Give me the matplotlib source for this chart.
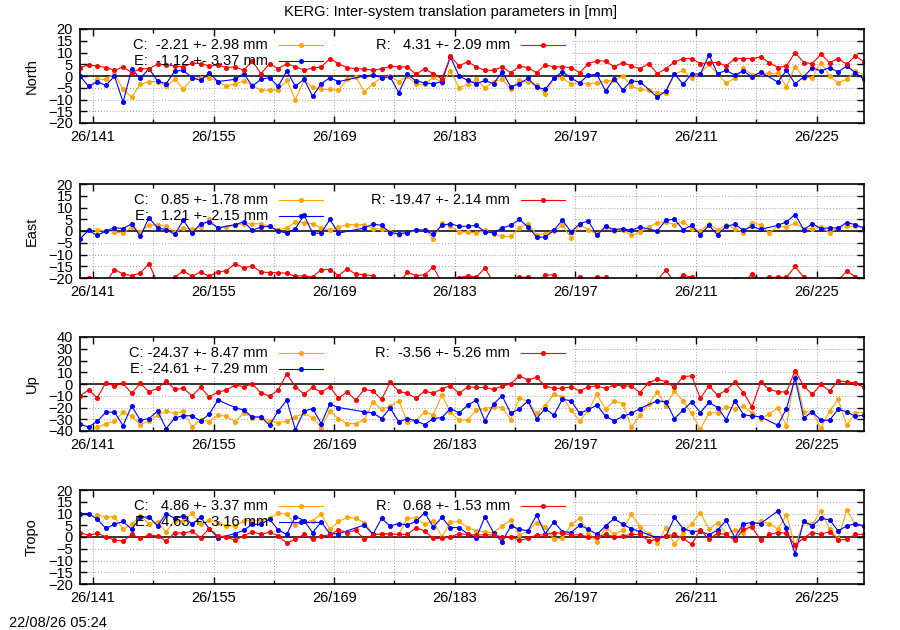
import matplotlib
matplotlib.use("Agg")
import matplotlib.pyplot as plt
import numpy as np
from matplotlib.patches import Rectangle
from matplotlib.ticker import FuncFormatter

nan = np.nan

# one solution per day, day-of-year 139.5 ... 230.5
days = 139.5 + np.arange(92)

north_c = [nan, nan, -1.4, -1.4, 1.0, -5.7, -9.0, -3.6, -2.4, -2.4,
           -4.3, -1.4, -5.7, -1.0, -0.7, -0.7, -2.4, -4.4, -3.3, -2.1,
           -4.0, -6.1, -5.9, -5.9, -1.9, -10.0, -1.9, -4.7, -5.7, -5.7,
           -6.1, -1.4, -0.4, -6.7, -3.3, -0.7, 0.0, -2.4, 0.0, -3.6,
           -3.6, -0.4, -2.9, 2.1, -5.0, -3.6, -1.4, -5.0, -2.4, -1.4,
           -5.7, -1.9, -2.4, -3.9, -7.6, -0.7, -1.0, -3.3, -2.9, -3.3,
           -2.9, -2.1, -1.9, 0.0, -4.3, -5.7, -6.1, -7.1, -7.1, 0.7,
           2.4, -1.0, 1.0, 5.0, 0.7, -2.9, -1.0, 3.3, 0.4, 1.4,
           1.1, 1.1, -4.6, 4.0, -0.7, -0.7, 5.7, 0.0, -2.9, -1.4,
           2.1, 0.4]
north_e = [0.0, -4.4, -2.4, -4.0, 0.0, -11.1, 2.9, -1.0, 3.1, -2.1,
           -3.3, 2.1, 2.4, -0.7, -1.9, 1.4, -2.4, nan, -1.4, 1.0,
           -4.3, -1.4, -0.7, -4.4, 2.1, -4.3, -1.4, -8.6, -3.3, -0.7,
           -2.4, nan, nan, 0.0, 0.4, -0.7, -0.4, -7.1, 0.7, -2.1,
           -2.9, -3.3, -2.4, 8.1, 0.0, -1.9, -3.3, -1.9, -3.3, 1.7,
           -4.6, -3.3, -1.0, -4.7, -5.7, -1.0, 1.9, -1.0, -2.9, 0.4,
           0.7, -6.4, -1.1, -5.9, -2.1, -2.4, nan, -9.0, -6.4, 1.0,
           -3.6, 1.0, 0.7, 9.0, 1.0, 2.4, 0.4, 2.1, -0.4, 1.7,
           nan, -2.6, 2.4, -3.3, -0.4, 3.6, 2.1, 3.6, 1.7, 4.3,
           1.4, -1.4]
north_r = [3.6, 4.7, 4.3, 3.6, 2.4, 3.9, 1.4, 3.1, 3.1, 5.0,
           4.7, 4.3, 3.9, 5.4, 5.3, 4.3, 4.7, 3.6, 3.9, 2.4,
           6.4, 1.0, 5.3, 3.1, 5.3, 3.9, 2.6, 3.3, 3.9, 7.4,
           5.3, 3.6, 3.1, 3.0, 2.4, 3.1, 4.1, 3.9, 3.9, 0.7,
           3.1, 1.0, -1.3, 8.3, 4.3, 6.1, 3.9, 2.4, 2.4, 3.9,
           1.4, 4.1, 3.6, 1.4, 4.7, 3.9, 3.9, 3.6, 1.4, 5.3,
           6.4, 6.4, 3.9, 5.7, 4.3, 3.1, 5.3, 1.0, 3.1, 6.0,
           7.4, 7.4, 5.3, 5.7, 5.7, 4.3, 7.4, 7.4, 7.4, 8.1,
           5.7, 3.6, 4.3, 10.0, 5.7, 5.3, 9.3, 5.7, 7.4, 5.0,
           8.6, 6.0]

east_c = [nan, nan, 0.6, 0.0, -0.4, -0.9, 1.7, -0.4, 2.4, 2.7,
          2.1, -0.4, 1.3, 0.7, 1.7, 4.9, 1.3, 1.7, 2.4, 3.1,
          3.1, 3.1, 2.0, 0.6, 1.3, 3.9, 3.6, 3.1, 1.3, 0.3,
          1.7, 2.7, 2.7, 2.7, 1.0, 1.0, -0.4, -1.6, -0.9, 0.3,
          0.6, -3.3, 3.4, 2.1, -0.4, -0.4, -0.9, 0.3, -1.4, -2.3,
          -2.3, 1.3, 3.1, -1.6, -1.1, 0.0, 2.4, -2.9, 2.7, 0.6,
          -1.4, 1.7, 0.0, 0.6, -1.9, -0.4, 1.7, 3.6, 3.9, 2.7,
          3.9, 1.0, -0.1, 3.1, 0.3, 2.7, 1.0, -0.7, 3.4, 2.7,
          -0.7, 2.0, 1.7, 3.4, 1.0, 1.0, 1.7, -0.7, 1.3, 2.0,
          2.0, 1.3]
east_e = [-3.3, 0.3, -1.9, 0.0, 1.4, 1.0, 3.1, -2.3, 5.7, 1.3,
          0.6, -1.4, 4.6, -0.9, 3.1, 3.9, 1.3, nan, 2.7, 3.9,
          0.3, 1.7, 2.0, 0.0, -0.9, 1.0, 6.7, -0.9, -0.9, 4.9,
          -0.9, nan, nan, 1.3, 2.9, 2.4, -0.7, -1.1, -0.7, 0.6,
          0.3, -1.4, 2.4, 3.1, 2.0, 2.0, 2.4, -0.4, -0.7, 1.3,
          2.4, 5.0, 1.7, -2.6, -2.6, 0.3, 4.6, -0.4, 3.1, 4.3,
          -1.9, 2.0, 0.6, 1.0, 0.3, 1.7, nan, 0.0, 4.6, 5.0,
          0.6, 2.4, -1.6, 2.4, -1.6, 2.0, 2.9, 0.3, 2.0, 0.7,
          nan, 2.4, 3.9, 7.0, 0.6, 3.1, 1.0, 1.3, 1.3, 3.6,
          2.7, 1.3]
east_r = [-21.0, -19.8, -21.0, -22.0, -16.4, -18.3, -19.0, -17.9, -13.9, -22.0,
          -23.0, -19.7, -16.9, -19.3, -17.4, -19.3, -17.4, -16.9, -13.9, -15.7,
          -14.9, -17.4, -17.7, -17.7, -18.0, -19.3, -19.0, -19.6, -16.4, -16.4,
          -19.0, -16.1, -18.3, -18.6, -19.1, -22.0, -23.0, -22.0, -17.6, -19.0,
          -18.6, -15.4, -22.0, -23.0, -20.0, -19.0, -19.7, -15.7, -22.0, -23.0,
          -22.0, -19.7, -19.7, -22.0, -18.7, -18.7, -22.0, -22.0, -19.7, -22.0,
          -19.7, -19.7, -22.0, -23.0, -22.0, -23.0, -22.0, -21.0, -16.6, -22.0,
          -18.7, -19.7, -22.0, -23.0, -22.0, -22.0, -21.0, -22.0, -18.3, -21.0,
          -19.7, -19.7, -19.7, -15.1, -19.7, -22.0, -23.0, -22.0, -21.0, -17.1,
          -19.4, -21.0]

up_c = [nan, nan, -37.0, -33.7, -31.4, -24.0, -27.4, -34.6, -31.4, -26.6,
        -22.9, -25.1, -23.1, -36.6, -30.3, -32.0, -26.6, -27.4, -32.3, -24.6,
        -28.6, -28.6, -31.4, -33.1, -31.4, -28.0, -25.1, -28.6, -37.1, -23.1,
        -29.4, -33.7, -33.7, -30.3, -15.1, -21.7, -18.9, -14.3, -32.3, -31.4,
        -23.7, -26.6, -9.4, -24.0, -30.9, -30.3, -22.3, -20.9, -19.4, -20.0,
        -30.3, -12.3, -14.6, -25.1, -18.3, -8.9, -10.9, -22.3, -31.4, -22.3,
        -8.9, -21.4, -14.6, -16.6, -36.6, -26.6, -17.1, -6.6, -18.3, -6.0,
        -14.3, -25.1, -38.6, -24.6, -24.6, -19.4, -20.9, -18.9, -24.6, -29.4,
        -25.7, -20.0, -36.0, 9.1, -23.7, -23.7, -37.1, -22.9, -13.1, -35.1,
        -24.3, -24.3]
up_e = [-34.3, -36.6, -31.7, -24.0, -24.0, -35.4, -18.6, -30.9, -29.4, -23.1,
        -38.0, -28.9, -26.9, -27.1, -31.4, -25.7, -13.7, nan, -20.0, -22.3,
        -28.0, -28.0, -35.1, -23.1, -13.7, -38.9, -23.1, -20.9, -33.7, -17.1,
        -20.0, nan, nan, -23.7, -24.6, -29.4, -20.3, -32.3, -29.4, -31.4,
        -34.6, -29.4, -28.6, -20.9, -24.6, -18.0, -13.7, -31.4, -17.1, -10.0,
        -25.1, -20.9, -14.6, -29.4, -20.9, -26.6, -12.9, -14.3, -25.1, -21.7,
        -18.0, -27.4, -31.4, -27.4, -25.1, -20.9, nan, -14.3, -15.1, -29.4,
        -22.3, -15.1, -24.3, -15.7, -20.0, -30.3, -14.3, -26.0, -27.4, -28.0,
        nan, -35.1, -20.9, 4.9, -28.9, -23.7, -30.9, -30.9, -21.4, -23.7,
        -27.4, -26.6]
up_r = [-10.0, -5.1, -11.7, 1.1, -1.7, 0.6, -8.0, 0.6, -6.6, -3.7,
        2.6, -4.6, -3.7, -10.0, -2.9, -10.9, -6.9, -5.1, -0.9, -2.3,
        0.0, -7.4, -10.3, -5.1, 8.6, -2.3, -8.6, -2.9, -6.9, -2.3,
        -12.3, -6.6, -13.7, -4.6, -6.0, -13.1, 1.4, -6.3, -8.0, -12.0,
        -6.0, -8.0, -4.0, -1.4, -8.0, -2.3, -2.9, -2.9, -4.6, -1.7,
        0.0, 6.9, 3.4, 5.7, -1.7, -3.7, -3.7, -2.3, -6.0, -2.3,
        -1.7, -3.7, -0.9, -1.7, -1.7, -7.4, 1.1, 4.0, 2.0, -2.9,
        6.3, 6.9, -12.3, -1.4, -9.7, -5.1, 1.4, -7.4, -19.4, 1.4,
        -4.6, -6.6, -6.9, 11.4, -1.7, -8.9, -0.3, -6.0, 2.6, 2.0,
        0.6, -2.9]

tropo_c = [nan, nan, 9.4, 8.6, 8.6, 3.3, 5.4, 9.0, 5.7, 6.4,
           2.3, 6.9, 6.9, 10.1, 5.4, 7.1, 6.1, 4.7, 4.7, 6.9,
           6.9, 6.9, 7.9, 10.1, 9.7, 5.1, 6.6, 6.9, 9.7, 3.3,
           6.6, 8.3, 8.0, 6.1, 1.4, 1.1, 1.1, 1.1, 8.0, 8.0,
           5.4, 6.9, 0.1, 6.4, 6.6, 4.0, 2.6, 2.1, 1.9, 4.7,
           7.3, 0.9, 2.6, 6.1, 4.4, -1.0, -0.6, 5.4, 8.0, 1.9,
           -2.0, 4.0, 1.1, 3.0, 9.7, 4.4, 1.1, -2.4, 4.0, -3.1,
           1.9, 5.7, 10.4, 3.3, 6.1, 1.4, 2.9, 1.9, 5.4, 6.6,
           5.7, 3.3, 9.4, -3.9, 6.6, 5.4, 10.9, 3.6, -1.0, 11.6,
           5.4, 4.7]
tropo_e = [10.0, 10.0, 7.6, 3.7, 5.4, 6.6, 3.3, 8.3, 8.6, 4.7,
           10.0, 7.9, 9.0, 5.4, 8.3, 3.6, -0.3, nan, 1.4, 2.9,
           5.4, 5.4, 7.6, 3.0, 1.1, 8.7, 7.0, 1.9, 6.4, 1.4,
           1.4, nan, nan, 5.1, 1.1, 7.9, 4.7, 5.7, 5.1, 6.6,
           10.4, 4.3, 8.3, 4.0, 4.0, 1.4, -0.3, 8.6, 1.9, -2.1,
           4.7, 3.3, 2.6, 9.4, 1.4, 6.4, 2.3, 1.9, 5.0, 3.3,
           1.1, 4.7, 7.9, 5.4, 3.6, 2.3, nan, -0.3, 0.4, 8.3,
           3.6, 2.3, 2.6, 0.9, 3.0, 7.1, -0.3, 5.7, 6.1, 5.7,
           nan, 11.1, 3.7, -7.1, 6.6, 4.7, 8.0, 7.3, 2.6, 4.7,
           5.7, 4.7]
tropo_r = [1.9, 0.7, 1.6, 0.1, -1.3, -1.7, 1.1, -0.6, 0.9, 0.4,
           -1.7, 1.9, 1.6, 2.6, -0.3, 3.6, 0.4, 0.0, -1.3, 0.4,
           2.3, 1.1, 2.1, 0.4, -2.6, -1.0, 1.1, -1.0, 0.4, 0.9,
           3.1, 1.9, 2.9, -1.0, 0.9, 1.4, 1.4, 1.1, 1.1, 4.0,
           2.6, -0.6, -0.6, 0.1, 1.4, 1.1, 0.9, 0.9, 0.9, 0.0,
           0.1, -1.4, -0.6, 0.9, 0.9, 1.9, 1.6, 0.9, 0.9, 0.1,
           0.0, 1.1, 0.1, 0.4, 1.1, 1.1, -1.7, -1.0, 0.4, 1.1,
           -0.6, -3.1, 3.0, -1.0, 1.6, 1.1, -1.4, 3.3, 4.3, -1.4,
           1.1, 1.9, 1.6, -3.6, -0.3, 1.9, 1.1, 2.3, -1.3, -1.0,
           1.1, 1.1]

panel_names = ["North", "East", "Up", "Tropo"]
panel_data = [(north_c, north_e, north_r), (east_c, east_e, east_r),
              (up_c, up_e, up_r), (tropo_c, tropo_e, tropo_r)]
panel_ylim = [20, 20, 40, 20]
panel_ystep = [5, 5, 10, 5]
key_labels = [
    ["C:  -2.21 +- 2.98 mm", "E:  -1.12 +- 3.37 mm", "R:   4.31 +- 2.09 mm"],
    ["C:   0.85 +- 1.78 mm", "E:   1.21 +- 2.15 mm", "R: -19.47 +- 2.14 mm"],
    ["C: -24.37 +- 8.47 mm", "E: -24.61 +- 7.29 mm", "R:  -3.56 +- 5.26 mm"],
    ["C:   4.86 +- 3.37 mm", "E:   4.63 +- 3.16 mm", "R:   0.68 +- 1.53 mm"],
]
colors = ["#ffa500", "#0000ff", "#ff0000"]

major_days = [141, 155, 169, 183, 197, 211, 225]
minor_days = [148, 162, 176, 190, 204, 218]

plt.rcParams['font.family'] = ['Liberation Sans', 'DejaVu Sans']
plt.rcParams['font.size'] = 10.5

fig = plt.figure(figsize=(9, 6.3), dpi=100)

# axes boxes in pixels (top, bottom) for a 900x630 canvas
tops = [29, 184, 337, 490]
x0, x1 = 80, 864

for k in range(4):
    top = tops[k]
    ax = fig.add_axes([x0 / 900, 1 - (top + 94) / 630, (x1 - x0) / 900, 94 / 630])
    lim = panel_ylim[k]
    ax.set_xlim(days[0], days[-1])
    ax.set_ylim(-lim, lim)
    yt = list(range(-lim, lim + 1, panel_ystep[k]))
    ax.set_yticks(yt)
    ax.set_xticks(major_days)
    ax.set_xticks(minor_days, minor=True)
    ax.xaxis.set_major_formatter(FuncFormatter(lambda v, p: "26/%d" % v))

    # grid, drawn by hand so the key box can hide it
    for d in major_days + minor_days:
        ax.axvline(d, color="#a0a0a0", lw=0.7, ls=(0, (1, 2)), zorder=0.5)
    for v in yt[1:-1]:
        if v != 0:
            ax.axhline(v, color="#a0a0a0", lw=0.7, ls=(0, (1, 2)), zorder=0.5)
    ax.add_patch(Rectangle((0, 0.565), 0.629, 0.435, transform=ax.transAxes,
                           facecolor="white", edgecolor="none", zorder=1))
    ax.axhline(0, color="black", lw=1.1, zorder=1.5)

    for vals, col in zip(panel_data[k], colors):
        y = np.array(vals, dtype=float)
        ok = ~np.isnan(y)
        ax.plot(days[ok], y[ok], color=col, lw=0.8, marker="o", ms=2.6,
                zorder=2)

    # key, gnuplot style: text then sample line
    keypos = [(0.240, 0.830), (0.240, 0.660), (0.5485, 0.830)]
    for (kx, ky), lab, col in zip(keypos, key_labels[k], colors):
        ax.text(kx, ky, lab, transform=ax.transAxes, ha="right", va="center",
                zorder=3)
        ax.plot([kx + 0.014, kx + 0.042, kx + 0.070], [ky, ky, ky],
                transform=ax.transAxes, color=col, lw=0.8, marker="o", ms=2.6,
                markevery=[1], zorder=3, clip_on=False)

    ax.tick_params(which="both", direction="in", top=True, right=True,
                   width=1.0, pad=5)
    ax.tick_params(which="major", length=5)
    ax.tick_params(which="minor", length=3)
    for s in ax.spines.values():
        s.set_linewidth(1.2)
    ax.set_ylabel(panel_names[k])
    ax.yaxis.set_label_coords(-0.053, 0.5)

fig.text(0.5, 1 - 12 / 630, "KERG: Inter-system translation parameters in [mm]",
         ha="center", va="center")
fig.text(9 / 900, 1 - 623 / 630, "22/08/26 05:24", ha="left", va="center")

plt.savefig("out.png", dpi=100)
